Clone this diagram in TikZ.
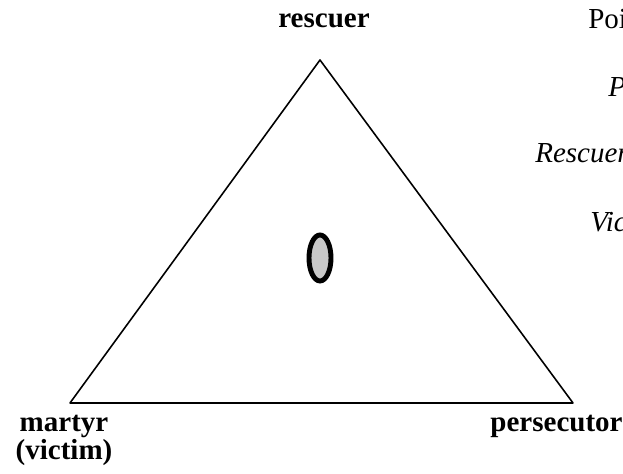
\documentclass[tikz,border=0pt]{standalone}
\usepackage{fontspec}
\setmainfont{Liberation Serif}
\usetikzlibrary{arrows,calc,positioning,shapes.geometric}
\usepackage{tkz-euclide}
\definecolor{OvalClr}{rgb}{0.784,0.784,0.784}
\definecolor{ShapeClr}{rgb}{0,0,0}

\begin{document}
\begin{tikzpicture}[
  roleLbl/.style={font=\fontsize{16.5}{19}\bfseries\selectfont,inner sep=0pt,anchor=base},
  sideLbl/.style={font=\fontsize{16.5}{19}\selectfont,inner sep=0pt,anchor=base west},
  sideIt/.style={sideLbl,font=\fontsize{16.5}{19}\itshape\selectfont}]
\clip (0,0) rectangle (12.46,9.48);
\tkzSetUpLine[line width=0.9pt,color=ShapeClr]

\tkzDefPoints{6.40/8.28/R,1.40/1.42/M,11.46/1.42/P,6.40/4.32/O}

\tkzDrawPolygon(R,M,P)

\node[ellipse,draw=black,line width=2.8pt,fill=OvalClr,
      minimum width=0.44cm,minimum height=0.92cm,inner sep=0pt] (self) at (O) {};

\node[roleLbl] (rescuer) at (6.48,8.92) {rescuer};
\node[roleLbl] (martyr) at (1.28,0.84) {martyr};
\node[roleLbl] (victim) at (1.28,0.28) {(victim)};
\node[roleLbl] (persecutor) at (11.13,0.84) {persecutor};

\node[sideLbl] (poi) at (11.76,8.90) {Poi};
\node[sideIt] (pp) at (12.16,7.54) {P};
\node[sideIt] (resc) at (10.70,6.22) {Rescuer};
\node[sideIt] (vic) at (11.80,4.84) {Vic};

\end{tikzpicture}
\end{document}
